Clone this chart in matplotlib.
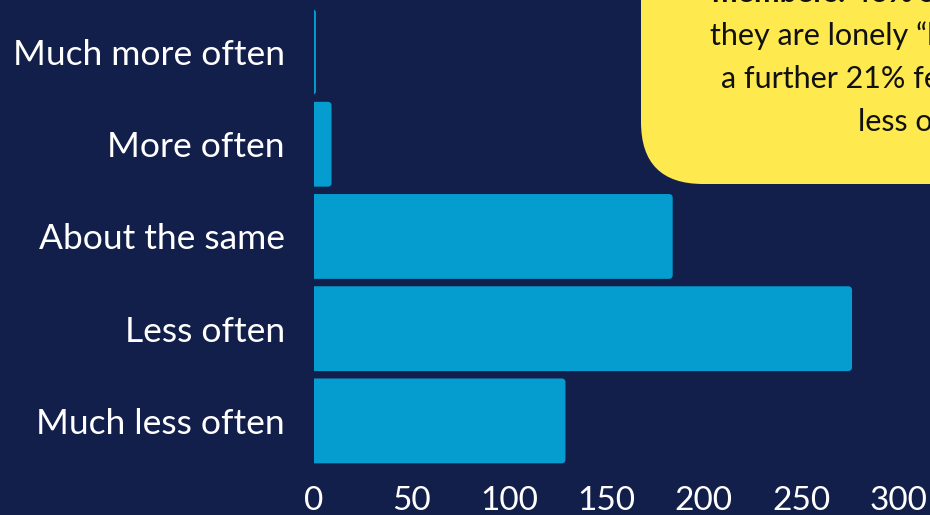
import matplotlib.pyplot as plt
from matplotlib.patches import FancyBboxPatch

# Data
categories = ['Much more often', 'More often', 'About the same', 'Less often', 'Much less often']
counts = [1, 9, 184, 276, 129]
x_ticks = [0, 50, 100, 150, 200, 250, 300]

note_lines = [
    ('members. 46% said', 'bold'),
    ('they are lonely \u201cless often\u201d and', 'normal'),
    ('a further 21% feel lonely much', 'normal'),
    ('less often.', 'normal'),
]

bg = '#131f4b'
bar_color = '#059ccf'
note_color = '#fee94e'

plt.rcParams['font.family'] = ['Lato', 'DejaVu Sans']

fig = plt.figure(figsize=(9.3, 5.15), dpi=100, facecolor=bg)
ax = fig.add_axes([314 / 930, 1 - 467 / 515, 1 - 314 / 930, 467 / 515])
ax.set_facecolor(bg)

y_pos = list(range(len(categories)))
bars = ax.barh(y_pos, counts, height=0.92, color=bar_color)
ax.set_xlim(0, 316)
ax.set_ylim(4.5, -0.564)

# round the right-hand corners of the bars
r = 2.0
asp = (1 / 92.0) / (1 / 1.95)
for b in bars:
    x0, y0 = b.get_x(), b.get_y()
    w, h = b.get_width(), b.get_height()
    b.remove()
    rs = min(r, (w + r) / 2)
    patch = FancyBboxPatch((x0 - r, y0), w + r, h,
                           boxstyle=f'round,pad=0,rounding_size={rs}',
                           mutation_aspect=asp, facecolor=bar_color,
                           edgecolor='none')
    ax.add_patch(patch)

ax.set_yticks(y_pos)
ax.set_yticklabels(categories, fontsize=25.5, color='white')
ax.set_xticks(x_ticks)
ax.set_xticklabels([str(t) for t in x_ticks], fontsize=24, color='white')
ax.tick_params(length=0, pad=14)
ax.tick_params(axis='y', pad=21)
for s in ax.spines.values():
    s.set_visible(False)

# yellow callout box (pixel coordinates)
ov = fig.add_axes([0, 0, 1, 1], zorder=5)
ov.set_xlim(0, 930)
ov.set_ylim(515, 0)
ov.axis('off')
ov.patch.set_alpha(0)
box = FancyBboxPatch((641, -200), 700, 384,
                     boxstyle='round,pad=0,rounding_size=62',
                     facecolor=note_color, edgecolor='none')
ov.add_patch(box)

line_x = [712, 710, 721, 858]
line_y = [2, 45, 88, 131]
for (txt, wt), lx, ly in zip(note_lines, line_x, line_y):
    ov.text(lx, ly, txt, fontsize=22, fontweight=wt, color='#111111',
            ha='left', va='baseline')

fig.savefig('out.png', dpi=100, facecolor=bg)
